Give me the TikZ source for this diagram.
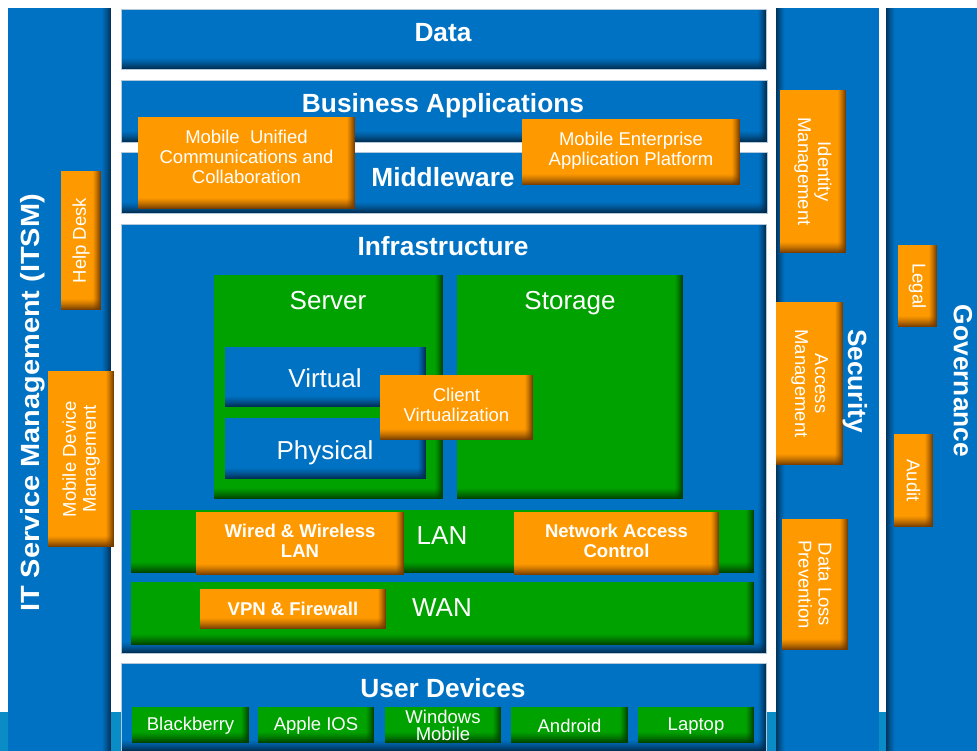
\documentclass[tikz,border=0pt]{standalone}
\usepackage{fontspec}
\setmainfont{Liberation Sans}
\definecolor{barblue}{HTML}{0072C3}
\definecolor{bardark}{HTML}{002A4C}
\definecolor{boxorange}{HTML}{FF9900}
\definecolor{orangedark}{HTML}{6E3800}
\definecolor{boxgreen}{HTML}{00A200}
\definecolor{greendark}{HTML}{003C00}
\definecolor{band}{HTML}{0A8CC6}
\definecolor{rim}{HTML}{B4C8DC}
\tikzset{
  box/.style={rectangle, inner sep=0pt, outer sep=0pt, anchor=north west},
  % soft dark bevel along the bottom and right edges, built from thin translucent bands
  shadeBR/.style 2 args={fill=#1, path picture={
    \foreach \k in {0,...,10}{
      \pgfmathsetmacro\bandop{0.9*((\k+1)/11)^1.3}
      \fill[#2, fill opacity=\bandop]
        ([yshift={(11-\k)*1pt}]path picture bounding box.south west)
        rectangle ([yshift={(10-\k)*1pt}]path picture bounding box.south east);
    }
    \foreach \k in {0,...,7}{
      \pgfmathsetmacro\bandop{0.9*((\k+1)/8)^1.3}
      \fill[#2, fill opacity=\bandop]
        ([xshift={-(8-\k)*1pt}]path picture bounding box.north east)
        rectangle ([xshift={-(7-\k)*1pt}]path picture bounding box.south east);
    }
  }},
  bluebar/.style={box, shadeBR={barblue}{bardark}, draw=rim, line width=0.8pt},
  innerblue/.style={box, shadeBR={barblue}{bardark}},
  greenbox/.style={box, shadeBR={boxgreen}{greendark}},
  orangebox/.style={box, shadeBR={boxorange}{orangedark}},
  % full-height columns: bevel on one vertical edge only
  colL/.style={box, fill=barblue, path picture={
    \foreach \k in {0,...,8}{
      \pgfmathsetmacro\bandop{0.85*((\k+1)/9)^1.3}
      \fill[bardark, fill opacity=\bandop]
        ([xshift={(8-\k)*1pt}]path picture bounding box.north west)
        rectangle ([xshift={(9-\k)*1pt}]path picture bounding box.south west);
    }
  }},
  colR/.style={box, fill=barblue, path picture={
    \foreach \k in {0,...,8}{
      \pgfmathsetmacro\bandop{0.85*((\k+1)/9)^1.3}
      \fill[bardark, fill opacity=\bandop]
        ([xshift={-(9-\k)*1pt}]path picture bounding box.north east)
        rectangle ([xshift={-(8-\k)*1pt}]path picture bounding box.south east);
    }
  }},
  txtTitle/.style={text=white, inner sep=0pt, anchor=base, font=\fontsize{26.3}{28}\selectfont\bfseries},
  txtBig/.style={text=white, inner sep=0pt, anchor=base, font=\fontsize{26}{28}\selectfont},
  txtBox/.style={text=white, inner sep=0pt, align=center, font=\fontsize{18.5}{20}\selectfont},
  txtBoxB/.style={text=white, inner sep=0pt, align=center, font=\fontsize{18.5}{20}\selectfont\bfseries},
}
\begin{document}
\begin{tikzpicture}[x=1pt, y=-1pt]
\useasboundingbox (0,0) rectangle (977,751);
\fill[white] (0,0) rectangle (977,751);
\fill[band] (0,712) rectangle (977,751);

% side columns
\node[colR, minimum width=103pt, minimum height=743pt] (itsm) at (8,8) {};
\node[colL, minimum width=103pt, minimum height=743pt] (security) at (776,8) {};
\node[colL, minimum width=91pt, minimum height=743pt] (governance) at (886,8) {};

% horizontal layers
\node[bluebar, minimum width=645pt, minimum height=60pt] (data) at (121,9) {};
\node[bluebar, minimum width=646pt, minimum height=62pt] (busapps) at (121,80) {};
\node[bluebar, minimum width=646pt, minimum height=61pt] (middleware) at (121,152) {};
\node[bluebar, minimum width=645pt, minimum height=429pt] (infra) at (121,224) {};
\node[bluebar, minimum width=645pt, minimum height=88pt] (devices) at (121,663) {};

% infrastructure blocks
\node[greenbox, minimum width=229pt, minimum height=224pt] (server) at (214,275) {};
\node[greenbox, minimum width=226pt, minimum height=224pt] (storage) at (457,275) {};
\node[innerblue, minimum width=201pt, minimum height=60pt] (virtual) at (225,347) {};
\node[innerblue, minimum width=201pt, minimum height=61pt] (physical) at (225,418) {};
\node[greenbox, minimum width=623pt, minimum height=63pt] (lan) at (131,510) {};
\node[greenbox, minimum width=623pt, minimum height=63pt] (wan) at (131,582) {};

% user device blocks
\node[greenbox, minimum width=117pt, minimum height=36pt] (bb) at (132,707) {};
\node[greenbox, minimum width=116pt, minimum height=36pt] (ios) at (258,707) {};
\node[greenbox, minimum width=116pt, minimum height=36pt] (winm) at (385,707) {};
\node[greenbox, minimum width=117pt, minimum height=36pt] (andr) at (511,707) {};
\node[greenbox, minimum width=116pt, minimum height=36pt] (laptop) at (638,707) {};

% orange capability boxes
\node[orangebox, minimum width=217pt, minimum height=92pt] (muc) at (138,117) {};
\node[orangebox, minimum width=218pt, minimum height=66pt] (meap) at (522,119) {};
\node[orangebox, minimum width=40pt, minimum height=139pt] (helpdesk) at (61,171) {};
\node[orangebox, minimum width=66pt, minimum height=176pt] (mdm) at (48,371) {};
\node[orangebox, minimum width=66pt, minimum height=163pt] (idm) at (780,90) {};
\node[orangebox, minimum width=67pt, minimum height=163pt] (acm) at (776,302) {};
\node[orangebox, minimum width=66pt, minimum height=131pt] (dlp) at (782,519) {};
\node[orangebox, minimum width=39pt, minimum height=82pt] (legal) at (898,245) {};
\node[orangebox, minimum width=39pt, minimum height=93pt] (audit) at (894,434) {};
\node[orangebox, minimum width=153pt, minimum height=65pt] (cv) at (380,375) {};
\node[orangebox, minimum width=208pt, minimum height=63pt] (wwl) at (196,512) {};
\node[orangebox, minimum width=205pt, minimum height=63pt] (nac) at (514,512) {};
\node[orangebox, minimum width=186pt, minimum height=40pt] (vpn) at (200,589) {};

% layer titles (placed on their baselines)
\node[txtTitle] (tData) at (443,42) {Data};
\node[txtTitle] (tBus) at (443,113) {Business Applications};
\node[txtTitle] (tMid) at (443,187) {Middleware};
\node[txtTitle] (tInfra) at (443,256) {Infrastructure};
\node[txtTitle] (tDev) at (443,697) {User Devices};
\node[txtTitle, anchor=center, rotate=90, xscale=1.1] (tItsm) at (33,403) {IT Service Management (ITSM)};
\node[txtTitle, anchor=center, rotate=-90] (tSec) at (855,381) {Security};
\node[txtTitle, anchor=center, rotate=-90] (tGov) at (963,381) {Governance};

% block labels
\node[txtBig] (tServer) at (328,309) {Server};
\node[txtBig] (tStorage) at (570,309) {Storage};
\node[txtBig] (tVirtual) at (325,387) {Virtual};
\node[txtBig] (tPhysical) at (325,459) {Physical};
\node[txtBig] (tLan) at (442,544) {LAN};
\node[txtBig] (tWan) at (442,616) {WAN};

% capability labels
\node[txtBox] (lMuc) at ([yshift=6pt]muc.center) {Mobile\hspace{0.28em} Unified\\Communications and\\Collaboration};
\node[txtBox] (lMeap) at ([yshift=1pt]meap.center) {Mobile Enterprise\\Application Platform};
\node[txtBox] (lCv) at ([yshift=3pt]cv.center) {Client\\Virtualization};
\node[txtBoxB] (lWwl) at ([yshift=3pt]wwl.center) {Wired \& Wireless\\LAN};
\node[txtBoxB] (lNac) at ([yshift=3pt]nac.center) {Network Access\\Control};
\node[txtBoxB] (lVpn) at (vpn.center) {VPN \& Firewall};
\node[txtBox, rotate=90] (lHelp) at (helpdesk.center) {Help Desk};
\node[txtBox, rotate=90] (lMdm) at (mdm.center) {Mobile Device\\Management};
\node[txtBox, rotate=-90] (lIdm) at (idm.center) {Identity\\Management};
\node[txtBox, rotate=-90] (lAcm) at (acm.center) {Access\\Management};
\node[txtBox, rotate=-90] (lDlp) at (dlp.center) {Data Loss\\Prevention};
\node[txtBox, rotate=-90] (lLegal) at (legal.center) {Legal};
\node[txtBox, rotate=-90] (lAudit) at (audit.center) {Audit};

% device labels
\node[txtBox] (lBb) at ([yshift=-1pt]bb.center) {Blackberry};
\node[txtBox] (lIos) at ([yshift=-1pt]ios.center) {Apple IOS};
\node[txtBox, font=\fontsize{18.5}{17}\selectfont] (lWin) at (winm.center) {Windows\\Mobile};
\node[txtBox] (lAndr) at ([yshift=-1pt]andr.center) {Android};
\node[txtBox] (lLaptop) at ([yshift=-1pt]laptop.center) {Laptop};
\end{tikzpicture}
\end{document}
